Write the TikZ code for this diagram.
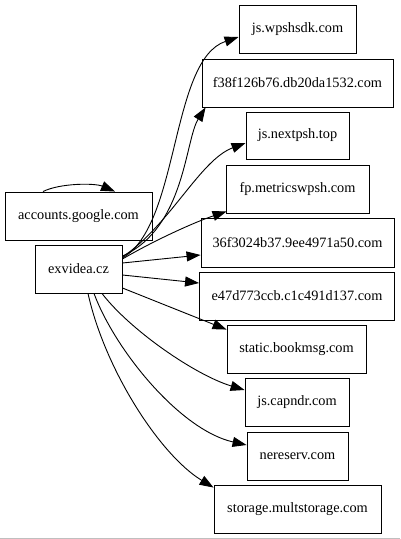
\documentclass[tikz,border=0pt]{standalone}
\usepackage{fontspec}
\setmainfont{Liberation Serif}
\usetikzlibrary{arrows.meta}
\begin{document}
\begin{tikzpicture}[x=1pt,y=-1pt,
  box/.style={draw=black,line width=0.9pt,rectangle,inner sep=0pt,minimum height=48pt,font=\fontsize{14.3pt}{16pt}\selectfont},
  edge/.style={draw=black,line width=0.9pt,-{Triangle[length=14pt,width=10pt]}}]
\useasboundingbox (0,0) rectangle (400,539);
\fill[white] (0,0) rectangle (400,539);
\draw[gray!50,line width=1pt] (0,538) -- (400,538);
% left nodes
\node[box,minimum width=147pt] (acc) at (78.5,216) {accounts.google.com};
\node[box,minimum width=87pt] (ex) at (78.5,269) {exvidea.cz};
% right nodes
\node[box,minimum width=117pt] (jswp) at (297.5,29) {js.wpshsdk.com};
\node[box,minimum width=191pt] (f38f) at (297.5,83) {f38f126b76.db20da1532.com};
\node[box,minimum width=103pt,minimum height=47pt] (jsnext) at (297.5,135.5) {js.nextpsh.top};
\node[box,minimum width=143pt] (fp) at (297.5,189) {fp.metricswpsh.com};
\node[box,minimum width=193pt,minimum height=49pt] (h36) at (297.5,242.5) {36f3024b37.9ee4971a50.com};
\node[box,minimum width=195pt] (e47) at (297,296) {e47d773ccb.c1c491d137.com};
\node[box,minimum width=139pt] (stat) at (296.5,349) {static.bookmsg.com};
\node[box,minimum width=104pt] (jscap) at (297,402) {js.capndr.com};
\node[box,minimum width=101pt] (nere) at (297.5,456) {nereserv.com};
\node[box,minimum width=167pt] (stor) at (297.5,509) {storage.multstorage.com};
% self loop
\draw[edge] ([xshift=-35.5pt]acc.north) .. controls (60,183) and (95,183) .. ([xshift=36.5pt]acc.north);
% edges from exvidea
\draw[edge] ([yshift=11pt]ex.east) .. controls (180,225) and (170,60) .. ([yshift=-8pt]jswp.west);
\draw[edge] ([yshift=13pt]ex.east) .. controls (185,228) and (185,140) .. ([xshift=4pt]f38f.south west);
\draw[edge] ([yshift=12pt]ex.east) .. controls (170,225) and (200,160) .. ([yshift=-7.5pt]jsnext.west);
\draw[edge] ([yshift=10pt]ex.east) .. controls (155,240) and (195,222) .. ([shift={(1pt,2pt)}]fp.south west);
\draw[edge] ([yshift=6pt]ex.east) -- ([yshift=-12.5pt]h36.west);
\draw[edge] ([yshift=-6pt]ex.east) -- ([yshift=13pt]e47.west);
\draw[edge] ([yshift=-19pt]ex.east) -- ([yshift=-5pt]stat.north west);
\draw[edge] ([xshift=23.5pt]ex.south) .. controls (130,330) and (195,375) .. ([yshift=12pt]jscap.west);
\draw[edge] ([xshift=15.5pt]ex.south) .. controls (115,350) and (180,430) .. ([yshift=11pt]nere.west);
\draw[edge] ([xshift=9.5pt]ex.south) .. controls (105,370) and (160,455) .. ([yshift=-3pt]stor.north west);
\end{tikzpicture}
\end{document}
